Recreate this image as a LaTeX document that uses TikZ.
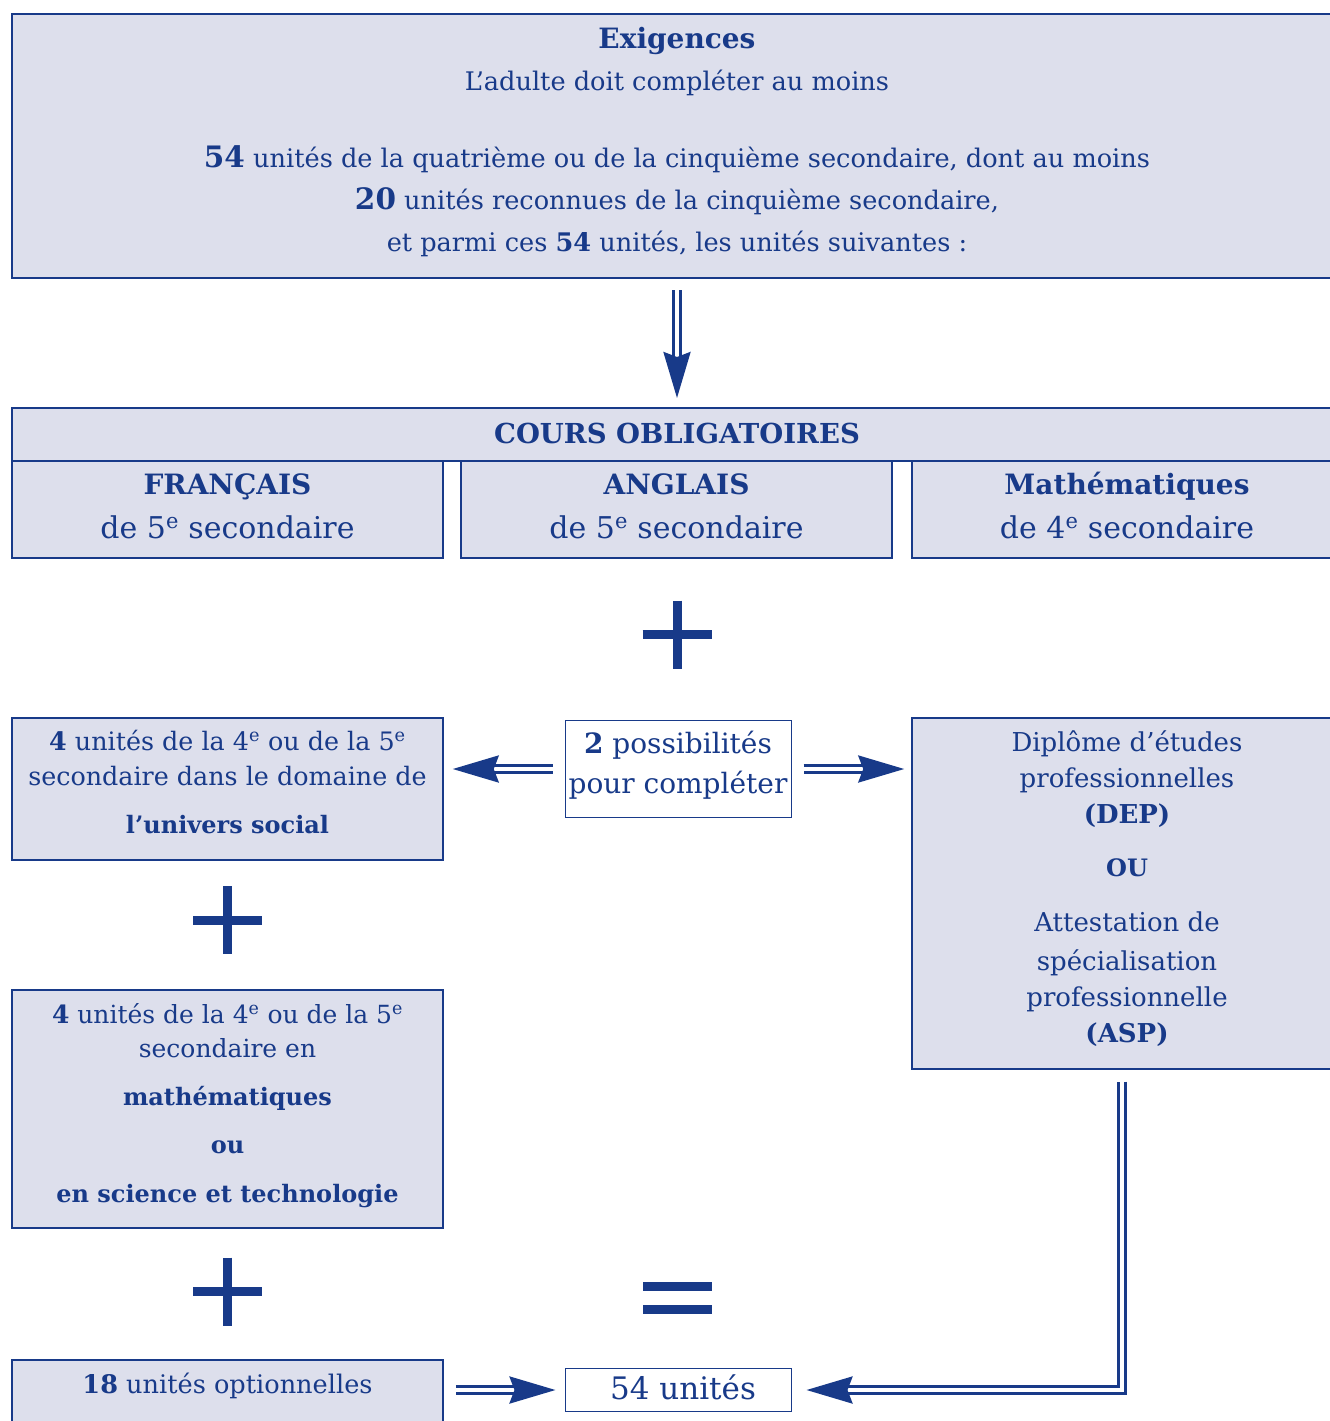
\documentclass[tikz,border=0pt]{standalone}
\usepackage{fontspec}
\setmainfont{DejaVu Serif}
\usetikzlibrary{arrows.meta}
\definecolor{bleu}{RGB}{24,58,137}
\definecolor{fond}{RGB}{221,223,236}

\begin{document}
\begin{tikzpicture}[x=1pt,y=-1pt,
	boite/.style={draw=bleu, fill=fond, line width=1.5pt, inner sep=0pt, anchor=north, align=center, text=bleu},
	blanc/.style={boite, fill=white, line width=1pt},
	dbl/.style={draw=bleu, double=white, line width=3pt, double distance=4pt, -{Stealth[length=46pt,width=27pt,inset=5pt]}, shorten <=12pt, shorten >=9pt}]
	\useasboundingbox (0,0) rectangle (1330,1421);
	\node [boite, line width=2pt, minimum width=1330pt, text height=237pt, text depth=27pt, font=\fontsize{25.6}{42}\selectfont] (exig) at (677,13)
		{{\fontsize{28}{42}\selectfont\bfseries Exigences}\\ L’adulte doit compléter au moins\\[35pt]
		{\fontsize{29.5}{42}\selectfont\bfseries 54} unités de la quatrième ou de la cinquième secondaire, dont au moins\\
		{\fontsize{29.5}{42}\selectfont\bfseries 20} unités reconnues de la cinquième secondaire,\\
		et parmi ces \textbf{54} unités, les unités suivantes :};
	\node [boite, line width=2pt, minimum width=1330pt, text height=35pt, text depth=18pt, font=\fontsize{27.5}{40}\selectfont\bfseries] (cours) at (677,407) {COURS OBLIGATOIRES};
	\node [boite, line width=2pt, minimum width=431pt, text height=77pt, text depth=20pt, font=\fontsize{30}{44}\selectfont] (fr) at (227.5,460) {{\fontsize{28}{44}\selectfont\bfseries FRANÇAIS}\\ de 5\textsuperscript{e} secondaire};
	\node [boite, line width=2pt, minimum width=431pt, text height=77pt, text depth=20pt, font=\fontsize{30}{44}\selectfont] (ang) at (676.5,460) {{\fontsize{28}{44}\selectfont\bfseries ANGLAIS}\\ de 5\textsuperscript{e} secondaire};
	\node [boite, line width=2pt, minimum width=430pt, text height=77pt, text depth=20pt, font=\fontsize{30}{44}\selectfont] (math) at (1127,460) {{\fontsize{28}{44}\selectfont\bfseries Mathématiques}\\ de 4\textsuperscript{e} secondaire};

	\node [boite, minimum width=431pt, text height=116pt, text depth=26pt, font=\fontsize{25.4}{35}\selectfont] (soc) at (227.5,717)
		{\textbf{4} unités de la 4\textsuperscript{e} ou de la 5\textsuperscript{e}\\ secondaire dans le domaine de\\[13pt] {\fontsize{24}{35}\selectfont\bfseries l’univers social}};
	\node [blanc, minimum width=226pt, text height=73pt, text depth=24pt, font=\fontsize{28}{40}\selectfont] (poss) at (678,720) {\textbf{2} possibilités\\ pour compléter};
	\node [boite, minimum width=430pt, text height=325pt, text depth=26pt, font=\fontsize{26}{36}\selectfont] (dip) at (1127,717)
		{Diplôme d’études\\ professionnelles\\ {\fontsize{26}{36}\selectfont\bfseries (DEP)}\\[17pt] {\fontsize{24}{36}\selectfont\bfseries OU}\\[19pt]
		Attestation de\\[3pt] spécialisation\\ professionnelle\\ {\fontsize{26}{36}\selectfont\bfseries (ASP)}};
	\node [boite, minimum width=431pt, text height=213pt, text depth=25pt, font=\fontsize{25}{34}\selectfont] (sci) at (227.5,989)
		{\textbf{4} unités de la 4\textsuperscript{e} ou de la 5\textsuperscript{e}\\ secondaire en\\[14pt]
		{\fontsize{24}{34}\selectfont\bfseries mathématiques}\\[14pt] {\fontsize{24}{34}\selectfont\bfseries ou}\\[15pt] {\fontsize{24}{34}\selectfont\bfseries en science et technologie}};
	\node [boite, minimum width=431pt, text height=34pt, text depth=81pt, font=\fontsize{25.6}{34}\selectfont] (opt) at (227.5,1359) {\textbf{18} unités optionnelles};
	\node [blanc, minimum width=226pt, text height=31pt, text depth=12pt, font=\fontsize{31}{34}\selectfont] (tot) at (678,1368) {\hspace*{10pt}54 unités};

	\foreach \cx/\cy in {677/634.5, 227.5/920, 227.5/1291.5}
		\draw [bleu, line width=9pt] (\cx-34.5,\cy) -- (\cx+34.5,\cy) (\cx,\cy-34) -- (\cx,\cy+34);
	\draw [bleu, line width=9pt] (643,1286.5) -- (712,1286.5) (643,1309.5) -- (712,1309.5);

	\draw [dbl, shorten <=11pt] (exig) -- (cours);
	\draw [dbl] (poss.west) -- (poss.west -| soc.east);
	\draw [dbl, shorten >=7pt] (poss.east) -- (poss.east -| dip.west);
	\draw [dbl] (tot.west -| opt.east) -- (tot.west);
	\draw [dbl, shorten >=15pt] ([xshift=-5pt]dip.south) |- (tot.east);
\end{tikzpicture}
\end{document}
